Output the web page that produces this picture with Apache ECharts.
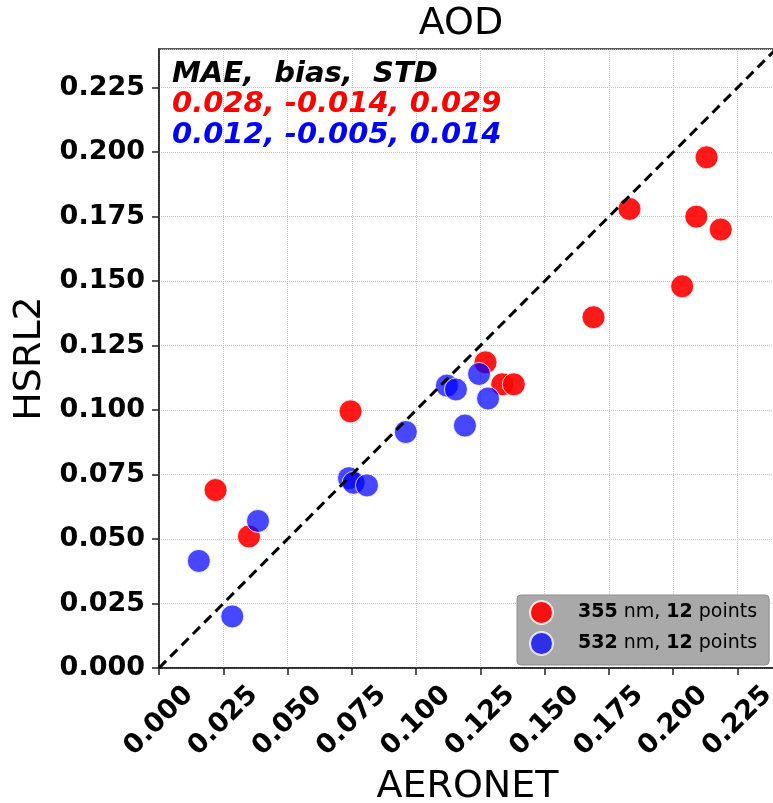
<!DOCTYPE html>
<html>
<head>
<meta charset="utf-8">
<script src="https://cdn.jsdelivr.net/npm/echarts@6/dist/echarts.min.js"></script>
<style>
  html, body { margin: 0; padding: 0; background: #fff; }
  #chart { width: 773px; height: 803px; }
</style>
</head>
<body>
<div id="chart"></div>
<script>
'use strict';
// AERONET vs HSRL2 AOD
var aeronet355 = [0.022, 0.035, 0.0745, 0.127, 0.1335, 0.138, 0.169, 0.183, 0.2035, 0.209, 0.213, 0.2185];
var hsrl355    = [0.069, 0.051, 0.0995, 0.1185, 0.110, 0.110, 0.136, 0.178, 0.148, 0.175, 0.198, 0.170];
var aeronet532 = [0.0155, 0.0285, 0.0385, 0.0739, 0.0757, 0.0809, 0.096, 0.112, 0.1155, 0.119, 0.1245, 0.128];
var hsrl532    = [0.0415, 0.020, 0.057, 0.0736, 0.0718, 0.0708, 0.0915, 0.1095, 0.108, 0.094, 0.114, 0.1045];
var tickValues = [0, 0.025, 0.05, 0.075, 0.1, 0.125, 0.15, 0.175, 0.2, 0.225];
var oneToOne   = [0, 0.24];
var statsHead  = 'MAE,  bias,  STD';
var stats355   = '0.028, -0.014, 0.029';
var stats532   = '0.012, -0.005, 0.014';

var FONT = 'DejaVu Sans';

function pairs(xs, ys){
    var out = [];
    for (var i = 0; i < xs.length; i++) out.push([xs[i], ys[i]]);
    return out;
}

function axisCommon(){
    return {
        type: 'value',
        min: 0,
        max: 0.24,
        interval: 0.025,
        axisLine: { show: true, lineStyle: { color: '#222', width: 1.5 } },
        axisTick: { show: true, length: 7, lineStyle: { color: '#222', width: 1.5 } },
        splitLine: { show: true, lineStyle: { color: '#c4c4c4', width: 1, type: 'dotted' } },
        axisLabel: {
            showMaxLabel: false,
            color: '#000',
            fontFamily: FONT,
            fontWeight: 'bold',
            fontSize: 27,
            formatter: function(v){
                for (var i = 0; i < tickValues.length; i++) {
                    if (Math.abs(tickValues[i] - v) < 1e-9) return tickValues[i].toFixed(3);
                }
                return '';
            }
        },
        nameTextStyle: { color: '#000', fontFamily: FONT, fontSize: 38 }
    };
}

var xAxis = axisCommon();
xAxis.name = 'AERONET';
xAxis.nameLocation = 'middle';
xAxis.nameGap = 99;
xAxis.axisLabel.rotate = 45;
xAxis.axisLabel.align = 'center';
xAxis.axisLabel.verticalAlign = 'middle';
xAxis.axisLabel.margin = 53;

var yAxis = axisCommon();
yAxis.name = 'HSRL2';
yAxis.nameLocation = 'middle';
yAxis.nameGap = 103;
yAxis.axisLabel.margin = 14;

var myChart = echarts.init(document.getElementById('chart'), null, { renderer: 'canvas' });
var option = {
    backgroundColor: '#fff',
    animation: false,
    grid: {
        left: 159, top: 49, width: 617, height: 619,
        outerBoundsMode: 'none',
        containLabel: false,
        show: true, borderColor: '#222', borderWidth: 1.5, backgroundColor: 'transparent'
    },
    xAxis: xAxis,
    yAxis: yAxis,
    legend: {
        data: ['355', '532'],
        orient: 'vertical',
        left: 517,
        top: 595,
        padding: [5, 12, 9, 12],
        itemGap: 6,
        itemWidth: 23,
        itemHeight: 23,
        icon: 'circle',
        backgroundColor: '#a9a9a9',
        borderColor: '#8e8e8e',
        borderWidth: 1,
        borderRadius: 4,
        formatter: function(name){
            return '{s| }{b|' + name + '}{n| nm, }{b|12}{n| points}';
        },
        textStyle: {
            color: '#000',
            fontFamily: FONT,
            fontSize: 19,
            rich: {
                s: { width: 20 },
                b: { fontWeight: 'bold', fontSize: 19, fontFamily: FONT, color: '#000' },
                n: { fontSize: 19, fontFamily: FONT, color: '#000' }
            }
        }
    },
    graphic: [
        { type: 'text', x: 461, y: 24, style: { text: 'AOD', align: 'center', verticalAlign: 'middle', font: '38px "DejaVu Sans"', fill: '#000' } },
        { type: 'text', x: 172, y: 74, z: 100, style: { text: statsHead, verticalAlign: 'middle', font: 'italic bold 29px "DejaVu Sans"', fill: '#000' } },
        { type: 'text', x: 172, y: 104.5, z: 100, style: { text: stats355, verticalAlign: 'middle', font: 'italic bold 29px "DejaVu Sans"', fill: '#ff0000' } },
        { type: 'text', x: 172, y: 135, z: 100, style: { text: stats532, verticalAlign: 'middle', font: 'italic bold 29px "DejaVu Sans"', fill: '#0000ff' } }
    ],
    series: [
        {
            name: '355',
            type: 'scatter',
            symbolSize: 23,
            itemStyle: { color: 'rgba(255,0,0,0.9)', opacity: 1, borderColor: 'rgba(255,255,255,0.8)', borderWidth: 1 },
            data: pairs(aeronet355, hsrl355)
        },
        {
            name: '532',
            type: 'scatter',
            symbolSize: 23,
            itemStyle: { color: 'rgba(0,0,255,0.72)', opacity: 1, borderColor: 'rgba(255,255,255,0.8)', borderWidth: 1 },
            data: pairs(aeronet532, hsrl532)
        },
        {
            name: '1:1',
            type: 'line',
            symbol: 'none',
            silent: true,
            z: 5,
            lineStyle: { color: '#000', width: 3, type: [10, 6] },
            data: pairs(oneToOne, oneToOne)
        }
    ]
};
myChart.setOption(option);
</script>
</body>
</html>
